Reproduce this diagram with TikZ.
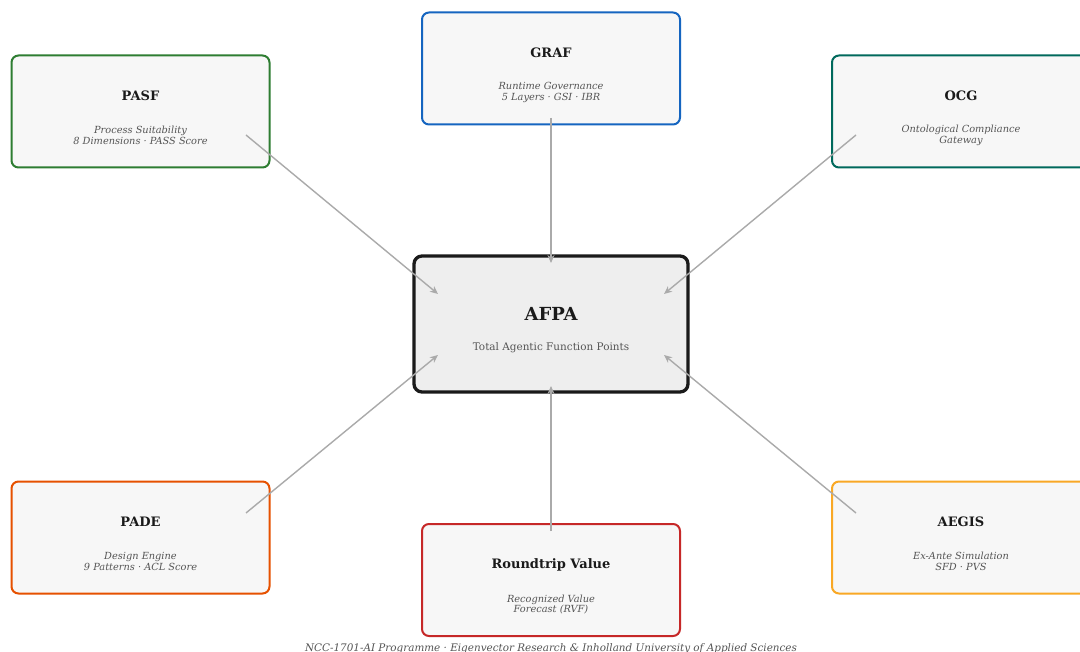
\documentclass[tikz,border=0pt]{standalone}
\usepackage{fontspec}
\setmainfont{DejaVu Serif}
\usetikzlibrary{arrows.meta}
\definecolor{cGreen}{HTML}{2E7D32}
\definecolor{cBlue}{HTML}{1565C0}
\definecolor{cTeal}{HTML}{00695C}
\definecolor{cOrange}{HTML}{E65100}
\definecolor{cRed}{HTML}{C62828}
\definecolor{cAmber}{HTML}{F9A825}
\definecolor{boxfill}{HTML}{F7F7F7}
\definecolor{centerfill}{HTML}{EEEEEE}
\definecolor{dark}{HTML}{1A1A1A}
\definecolor{subgray}{HTML}{555555}
\definecolor{conngray}{HTML}{AAAAAA}
\tikzset{
  box/.style={rectangle, rounded corners=7pt, fill=boxfill, line width=2pt, minimum width=258pt, minimum height=112pt, inner sep=0pt},
  centerbox/.style={rectangle, rounded corners=8pt, fill=centerfill, draw=dark, line width=3.3pt, minimum width=274pt, minimum height=136pt, inner sep=0pt},
  ttl/.style={font=\fontsize{13}{15}\selectfont\bfseries, text=dark, inner sep=0pt},
  sub/.style={font=\fontsize{9.8}{10.5}\selectfont\itshape, text=subgray, align=center, inner sep=0pt},
  conn/.style={draw=conngray, line width=1.4pt, -{Stealth[length=8pt,width=7pt]}},
}
\begin{document}
\begin{tikzpicture}[x=1pt,y=-1pt]
\useasboundingbox[fill=white] (0,0) rectangle (1080,652);

% center
\node[centerbox] (afpa) at (551,324) {};
\node[font=\fontsize{18}{20}\selectfont\bfseries, text=dark, inner sep=0pt] (afpaT) at (551,314) {AFPA};
\node[font=\fontsize{10.45}{12}\selectfont, text=subgray, inner sep=0pt] (afpaS) at (551,348) {Total Agentic Function Points};

% satellites
\node[box, draw=cGreen] (pasf) at (140.5,111.5) {};
\node[ttl] (pasfT) at (140.5,96) {PASF};
\node[sub] (pasfS) at (140.5,135.5) {Process Suitability\\8 Dimensions · PASS Score};

\node[box, draw=cBlue] (graf) at (551,68.5) {};
\node[ttl] (grafT) at (551,53) {GRAF};
\node[sub] (grafS) at (551,92.5) {Runtime Governance\\5 Layers · GSI · IBR};

\node[box, draw=cTeal] (ocg) at (961,111.5) {};
\node[ttl] (ocgT) at (961,96) {OCG};
\node[sub] (ocgS) at (961,135.5) {Ontological Compliance\\Gateway};

\node[box, draw=cOrange] (pade) at (140.5,537.5) {};
\node[ttl] (padeT) at (140.5,522) {PADE};
\node[sub] (padeS) at (140.5,561.5) {Design Engine\\9 Patterns · ACL Score};

\node[box, draw=cRed] (rt) at (551,580) {};
\node[ttl] (rtT) at (551,565) {Roundtrip Value};
\node[sub] (rtS) at (551,604.5) {Recognized Value\\Forecast (RVF)};

\node[box, draw=cAmber] (aegis) at (961,537.5) {};
\node[ttl] (aegisT) at (961,522) {AEGIS};
\node[sub] (aegisS) at (961,561.5) {Ex-Ante Simulation\\SFD · PVS};

% connector end points
\coordinate (pasfOut) at (246,135);
\coordinate (grafOut) at (551,118);
\coordinate (ocgOut) at (856,135);
\coordinate (padeOut) at (246,513);
\coordinate (rtOut) at (551,531);
\coordinate (aegisOut) at (856,513);
\coordinate (afpaNW) at (438,294);
\coordinate (afpaN) at (551,263);
\coordinate (afpaNE) at (664,294);
\coordinate (afpaSW) at (438,355);
\coordinate (afpaS) at (551,386);
\coordinate (afpaSE) at (664,355);

\draw[conn] (pasfOut) -- (afpaNW);
\draw[conn] (grafOut) -- (afpaN);
\draw[conn] (ocgOut) -- (afpaNE);
\draw[conn] (padeOut) -- (afpaSW);
\draw[conn] (rtOut) -- (afpaS);
\draw[conn] (aegisOut) -- (afpaSE);

\node[font=\fontsize{10.4}{12}\selectfont\itshape, text=subgray, inner sep=0pt] (footer) at (551,648.5) {NCC-1701-AI Programme · Eigenvector Research \& Inholland University of Applied Sciences};
\end{tikzpicture}
\end{document}
